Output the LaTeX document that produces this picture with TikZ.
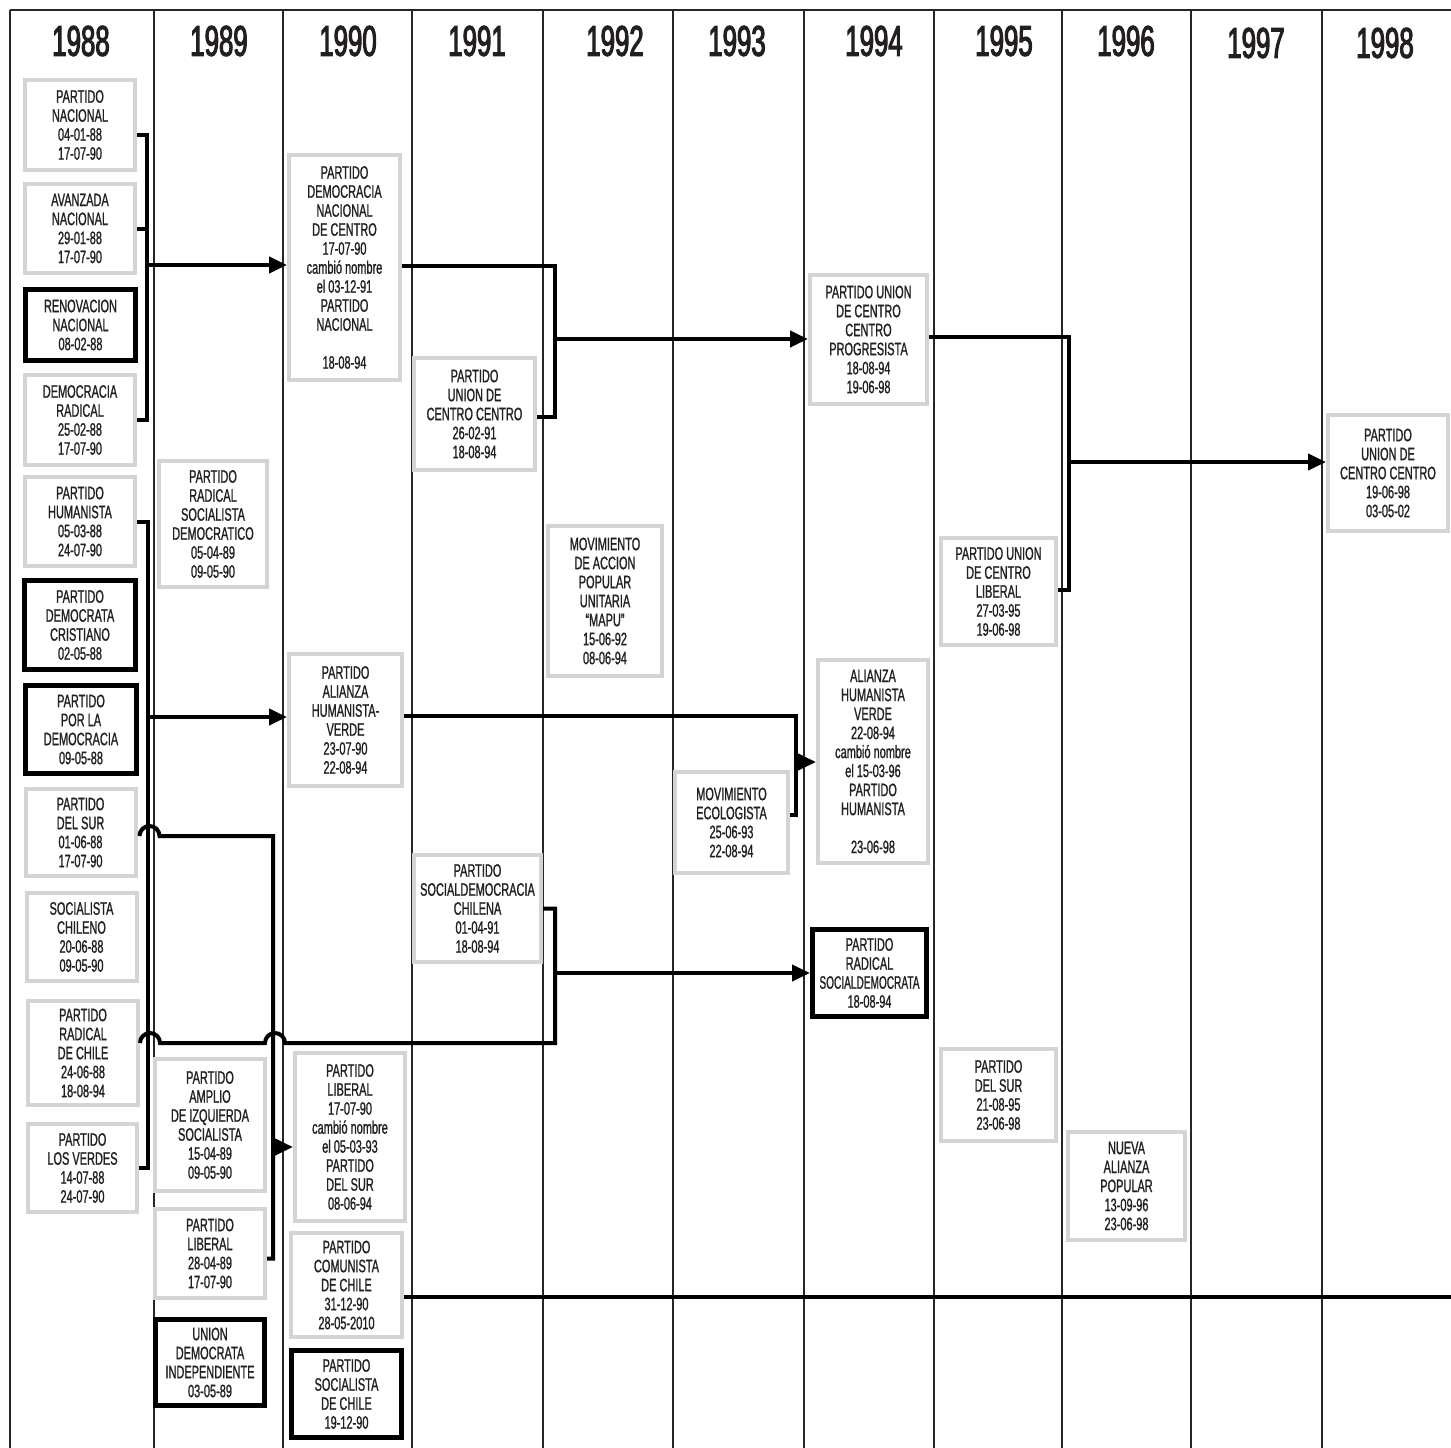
\documentclass[tikz,border=0pt]{standalone}
\usepackage{fontspec}
\usepackage{graphicx}
\setmainfont{Liberation Sans}[FakeStretch=0.61, FakeBold=1]
\newfontfamily\yearfam{Liberation Sans}[FakeStretch=0.6, FakeBold=2.5]
\usetikzlibrary{arrows.meta,calc}
\definecolor{boxgray}{HTML}{D4D4D4}
\definecolor{ink}{HTML}{231F20}
\newcommand\partyfont{\fontsize{18}{19}\selectfont}
\newcommand\yearfont{\yearfam\fontsize{43}{45}\selectfont}
\newcommand\squeeze[1]{\scalebox{0.92}[1]{#1}}
\tikzset{
    party/.style={draw=boxgray, line width=4pt, fill=white, text=ink, align=center, inner sep=0pt, font=\partyfont},
    founder/.style={party, draw=black, line width=5pt},
    sz/.style 2 args={minimum width=#1pt, minimum height=#2pt},
    merge/.style={line width=4pt, black},
    feed/.style={merge, -{Triangle[length=18pt,width=16pt]}},
    year/.style={font=\yearfont, text=ink, inner sep=0pt},
    colline/.style={line width=1.6pt, black!85},
}
\begin{document}
\begin{tikzpicture}[x=1pt, y=-1pt]
    \useasboundingbox (0,0) rectangle (1451,1448);
    \foreach \xc in {10,154,283,412,543,673,804,934,1062,1191,1322} {
        \draw[colline] (\xc,10) -- (\xc,1448);
    }
    \draw[colline, line width=2.4pt] (10,10) -- (1451,10);
    \foreach \yr/\xc/\yc in {1988/81/41, 1989/219/41, 1990/348/41, 1991/477/41, 1992/615/41, 1993/737/41, 1994/874/41, 1995/1004/41, 1996/1126/41, 1997/1256/43, 1998/1385/43} {
        \node[year] (y\yr) at (\xc,\yc) {\yr};
    }

    \node[party, sz={110}{90}] (nac) at (80,125) {PARTIDO\\NACIONAL\\04-01-88\\17-07-90};
    \node[party, sz={110}{89}] (an) at (80,228.5) {AVANZADA\\NACIONAL\\29-01-88\\17-07-90};
    \node[founder, sz={110}{71}] (rn) at (80.5,325) {RENOVACION\\NACIONAL\\08-02-88};
    \node[party, sz={110}{90}] (dr) at (80,420) {DEMOCRACIA\\RADICAL\\25-02-88\\17-07-90};
    \node[party, sz={110}{89}] (ph) at (80,521.5) {PARTIDO\\HUMANISTA\\05-03-88\\24-07-90};
    \node[founder, sz={111}{89}] (pdc) at (80,625) {PARTIDO\\DEMOCRATA\\CRISTIANO\\02-05-88};
    \node[founder, sz={111}{88}] (ppd) at (81,729.5) {PARTIDO\\POR LA\\DEMOCRACIA\\09-05-88};
    \node[party, sz={110}{87}] (sur88) at (80.5,832.5) {PARTIDO\\DEL SUR\\01-06-88\\17-07-90};
    \node[party, sz={110}{88}] (sch) at (81.5,937) {SOCIALISTA\\CHILENO\\20-06-88\\09-05-90};
    \node[party, sz={110}{104}] (rch) at (83,1053) {PARTIDO\\RADICAL\\DE CHILE\\24-06-88\\18-08-94};
    \node[party, sz={109}{88}] (lv) at (82.5,1168) {PARTIDO\\LOS VERDES\\14-07-88\\24-07-90};

    \node[party, sz={108}{126}] (rsd89) at (213,524) {PARTIDO\\RADICAL\\SOCIALISTA\\DEMOCRATICO\\05-04-89\\09-05-90};
    \node[party, sz={110}{132}] (pai) at (210,1125) {PARTIDO\\AMPLIO\\DE IZQUIERDA\\SOCIALISTA\\15-04-89\\09-05-90};
    \node[party, sz={110}{89}] (lib89) at (210,1253.5) {PARTIDO\\LIBERAL\\28-04-89\\17-07-90};
    \node[founder, sz={109}{86}] (udi) at (210,1362.5) {UNION\\DEMOCRATA\\INDEPENDIENTE\\03-05-89};

    \node[party, sz={111}{225}] (dnc) at (344.5,267.5) {PARTIDO\\DEMOCRACIA\\NACIONAL\\DE CENTRO\\17-07-90\\cambió nombre\\el 03-12-91\\PARTIDO\\NACIONAL\\[19pt]18-08-94};
    \node[party, sz={113}{132}] (pahv) at (345.5,720) {PARTIDO\\ALIANZA\\HUMANISTA-\\VERDE\\23-07-90\\22-08-94};
    \node[party, sz={110}{168}] (lib90) at (350,1137) {PARTIDO\\LIBERAL\\17-07-90\\cambió nombre\\el 05-03-93\\PARTIDO\\DEL SUR\\08-06-94};
    \node[party, sz={111}{104}] (com) at (346.5,1285) {PARTIDO\\COMUNISTA\\DE CHILE\\31-12-90\\28-05-2010};
    \node[founder, sz={110}{87}] (ps) at (346.5,1394) {PARTIDO\\SOCIALISTA\\DE CHILE\\19-12-90};

    \node[party, sz={121}{112}] (ucc91) at (474.5,414) {PARTIDO\\UNION DE\\CENTRO CENTRO\\26-02-91\\18-08-94};
    \node[party, sz={127}{107}] (sdc) at (477.5,908.5) {PARTIDO\\SOCIALDEMOCRACIA\\CHILENA\\01-04-91\\18-08-94};
    \node[party, sz={114}{150}] (mapu) at (605,601) {MOVIMIENTO\\DE ACCION\\POPULAR\\UNITARIA\\“MAPU”\\15-06-92\\08-06-94};
    \node[party, sz={113}{101}] (eco) at (731.5,822.5) {MOVIMIENTO\\ECOLOGISTA\\25-06-93\\22-08-94};

    \node[party, sz={117}{129}] (ucp) at (868.5,339.5) {PARTIDO UNION\\DE CENTRO\\CENTRO\\PROGRESISTA\\18-08-94\\19-06-98};
    \node[party, sz={110}{203}] (ahv94) at (873,761.5) {ALIANZA\\HUMANISTA\\VERDE\\22-08-94\\cambió nombre\\el 15-03-96\\PARTIDO\\HUMANISTA\\[19pt]23-06-98};
    \node[founder, sz={114}{87}] (rsd94) at (869.5,973) {PARTIDO\\RADICAL\\\squeeze{SOCIALDEMOCRATA}\\18-08-94};
    \node[party, sz={115}{107}] (ucl) at (998.5,591.5) {PARTIDO UNION\\DE CENTRO\\LIBERAL\\27-03-95\\19-06-98};
    \node[party, sz={115}{92}] (sur95) at (998.5,1095) {PARTIDO\\DEL SUR\\21-08-95\\23-06-98};
    \node[party, sz={117}{108}] (nap) at (1126.5,1186) {NUEVA\\ALIANZA\\POPULAR\\13-09-96\\23-06-98};
    \node[party, sz={120}{116}] (ucc98) at (1388,473) {PARTIDO\\UNION DE\\CENTRO CENTRO\\19-06-98\\03-05-02};

    \coordinate (spA) at (147,265);
    \coordinate (spB) at (148,717);
    \coordinate (spC) at (273,1147);
    \coordinate (spD) at (555,339);
    \coordinate (spE) at (555,973);
    \coordinate (spF) at (1069,462);
    \coordinate (spG) at (796,762);
    \coordinate (rim) at (1451,1297);

    \draw[merge] ([yshift=-10pt]nac.east) -| (spA) |- (dr.east);
    \draw[merge] (an.east) -- (an.east -| spA);
    \draw[feed] (spA) -- (spA -| dnc.west);

    \draw[merge] (ph.east) -| (spB) |- (lv.east);
    \draw[feed] (spB) -- (spB -| pahv.west);

    \draw[merge] ([xshift=2pt, yshift=-3.5pt]sur88.east) arc[start angle=180, end angle=0, radius=10pt] -| (spC) |- ([yshift=-5pt]lib89.east);
    \draw[feed] (spC) -- (spC -| lib90.west);

    \draw[merge] ([yshift=10pt]rch.east) arc[start angle=180, end angle=0, radius=10pt] -- ++(105,0) arc[start angle=180, end angle=0, radius=10pt] -| (spE) |- (sdc.east);
    \draw[feed] (spE) -- (spE -| rsd94.west);

    \draw[merge] ([yshift=2pt]dnc.east) -| (spD) |- ([yshift=-3pt]ucc91.east);
    \draw[feed] (spD) -- (spD -| ucp.west);

    \draw[merge] ([yshift=3pt]ucp.east) -| (spF) |- ([yshift=2pt]ucl.east);
    \draw[feed] (spF) -- (spF -| ucc98.west);

    \draw[merge] ([yshift=4pt]pahv.east) -| (spG) |- ([yshift=7.5pt]eco.east);
    \draw[feed] (spG) -- (spG -| ahv94.west);

    \draw[merge] ([yshift=-12pt]com.east) -- (rim);
\end{tikzpicture}
\end{document}
